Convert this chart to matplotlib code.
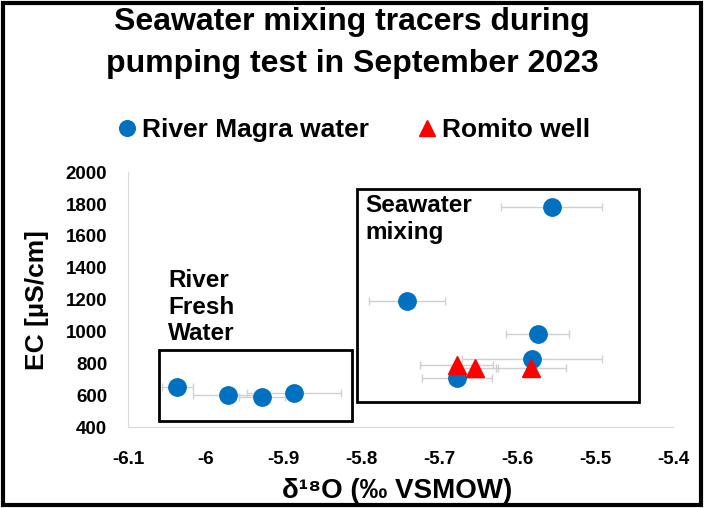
import matplotlib.pyplot as plt
from matplotlib.patches import Rectangle

plt.rcParams['font.family'] = ['Liberation Sans', 'DejaVu Sans']
plt.rcParams['font.weight'] = 'bold'

# River Magra water samples
river_x = [-6.037, -5.972, -5.928, -5.887, -5.556, -5.742, -5.574, -5.581, -5.678]
river_y = [651, 601, 588, 613, 1780, 1190, 983, 827, 707]
river_xerr = [0.02, 0.045, 0.03, 0.06, 0.065, 0.049, 0.04, 0.09, 0.045]
river_yerr = [0, 0, 0, 0, 35, 0, 0, 0, 0]

# Romito well samples
well_x = [-5.678, -5.655, -5.582]
well_y = [790, 770, 770]
well_xerr = [0.047, 0.03, 0.045]

# annotation boxes (data coords): x0, y0, x1, y1
fresh_box = (-6.060, 438, -5.812, 883)
sea_box = (-5.806, 557, -5.444, 1893)

fig = plt.figure(figsize=(7.04, 5.08), dpi=100)
ax = fig.add_axes([0.182, 0.159, 0.774, 0.502])

ax.errorbar(river_x, river_y, xerr=river_xerr, yerr=river_yerr, fmt='none',
            ecolor='#d0d0d0', elinewidth=1, capsize=3, zorder=2)
ax.errorbar(well_x, well_y, xerr=well_xerr, fmt='none',
            ecolor='#d0d0d0', elinewidth=1, capsize=3, zorder=2)
ax.plot(river_x, river_y, 'o', color='#0070C0', markersize=12.5, zorder=3,
        label='River Magra water')
ax.plot(well_x, well_y, '^', color='#FF0000', markersize=12.5, zorder=4,
        label='Romito well')

for x0, y0, x1, y1 in (fresh_box, sea_box):
    ax.add_patch(Rectangle((x0, y0), x1 - x0, y1 - y0, fill=False,
                           edgecolor='black', linewidth=2, zorder=1,
                           clip_on=False))

ax.text(-6.0487, 1153, 'River\nFresh\nWater', fontsize=17.5, fontweight='bold',
        va='center', ha='left', linespacing=1.2)
ax.text(-5.795, 1708, 'Seawater\nmixing', fontsize=17.5, fontweight='bold',
        va='center', ha='left', linespacing=1.2)

ax.set_xlim(-6.1, -5.4)
ax.set_ylim(400, 2000)
ax.set_xticks([-6.1, -6.0, -5.9, -5.8, -5.7, -5.6, -5.5, -5.4])
ax.set_xticklabels(['-6.1', '-6', '-5.9', '-5.8', '-5.7', '-5.6', '-5.5', '-5.4'])
ax.set_yticks(range(400, 2001, 200))
ax.tick_params(length=0, labelsize=13.5)
ax.tick_params(axis='y', pad=15)
ax.tick_params(axis='x', pad=17)
for lab in ax.get_xticklabels() + ax.get_yticklabels():
    lab.set_fontweight('bold')
for s in ('top', 'right'):
    ax.spines[s].set_visible(False)
for s in ('left', 'bottom'):
    ax.spines[s].set_color('#d9d9d9')

ax.set_xlabel('δ¹⁸O (‰ VSMOW)', fontsize=20, fontweight='bold', va='center')
ax.xaxis.set_label_coords(0.494, -0.25)
ax.set_ylabel('EC [µS/cm]', fontsize=19, fontweight='bold', labelpad=12)

fig.text(0.5, 1 - 43 / 508, 'Seawater mixing tracers during\npumping test in September 2023',
         ha='center', va='center', fontsize=23, fontweight='bold', linespacing=1.5)

fig.legend(loc='center', bbox_to_anchor=(0.504, 1 - 130 / 508), ncol=2, frameon=False,
           fontsize=19, handlelength=0.6, handletextpad=0.27, columnspacing=1.9,
           markerscale=0.9)

fig.add_artist(Rectangle((0.004, 0.005), 0.992, 0.99, transform=fig.transFigure,
                         fill=False, edgecolor='black', linewidth=3))

fig.savefig('out.png', dpi=100)
